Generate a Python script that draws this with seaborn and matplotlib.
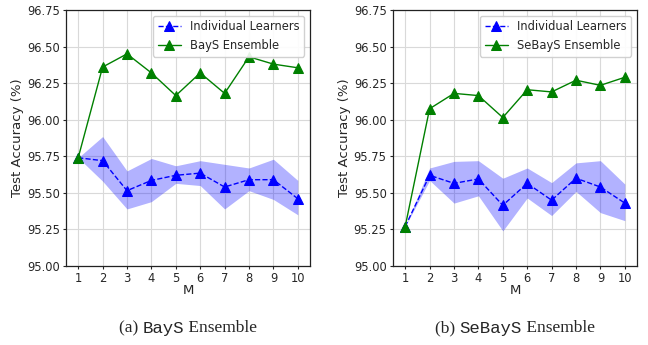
import matplotlib
matplotlib.use("Agg")
import matplotlib.pyplot as plt
import seaborn as sns
import numpy as np
import pandas as pd

# ensemble size
M = list(range(1, 11))

# (a) BayS
bays_indiv = [95.74, 95.72, 95.515, 95.585, 95.62, 95.635, 95.54, 95.59, 95.59, 95.46]
bays_upper = [95.74, 95.885, 95.65, 95.735, 95.685, 95.72, 95.695, 95.67, 95.73, 95.585]
bays_lower = [95.74, 95.58, 95.39, 95.44, 95.565, 95.55, 95.39, 95.515, 95.455, 95.35]
bays_ens = [95.74, 96.36, 96.45, 96.32, 96.165, 96.32, 96.18, 96.43, 96.38, 96.355]

# (b) SeBayS
sebays_indiv = [95.27, 95.62, 95.565, 95.595, 95.415, 95.565, 95.45, 95.60, 95.54, 95.43]
sebays_upper = [95.27, 95.67, 95.715, 95.72, 95.60, 95.67, 95.57, 95.705, 95.72, 95.56]
sebays_lower = [95.27, 95.585, 95.43, 95.48, 95.24, 95.465, 95.345, 95.51, 95.365, 95.31]
sebays_ens = [95.27, 96.075, 96.18, 96.165, 96.015, 96.205, 96.19, 96.27, 96.235, 96.29]

yticks = [95.00, 95.25, 95.50, 95.75, 96.00, 96.25, 96.50, 96.75]

sns.set_theme(style="ticks")
plt.rcParams["font.family"] = ["DejaVu Sans"]

fig = plt.figure(figsize=(6.48, 3.45), dpi=100)
ax_a = fig.add_axes([66 / 648, 1 - 266 / 345, 244 / 648, 256 / 345])
ax_b = fig.add_axes([393 / 648, 1 - 266 / 345, 244 / 648, 256 / 345])


def draw(ax, indiv, lo, hi, ens, ens_name):
    df = pd.DataFrame({"M": M, "indiv": indiv, "ens": ens})
    # spread of the individual learners
    ax.fill_between(M, lo, hi, color="blue", alpha=0.3, linewidth=0)
    sns.lineplot(data=df, x="M", y="indiv", ax=ax, color="blue", linestyle="--",
                 marker="^", markersize=7.5, markeredgecolor="blue", linewidth=1,
                 label="Individual Learners")
    sns.lineplot(data=df, x="M", y="ens", ax=ax, color="green", linestyle="-",
                 marker="^", markersize=7.5, markeredgecolor="green", linewidth=1,
                 label=ens_name)
    ax.set_xlim(0.5, 10.5)
    ax.set_ylim(95.0, 96.75)
    ax.set_xticks(M)
    ax.set_yticks(yticks)
    ax.set_yticklabels([f"{t:.2f}" for t in yticks])
    ax.tick_params(labelsize=8.3, length=2.5, width=0.8, pad=2)
    ax.grid(True, color="#d9d9d9", linewidth=0.8)
    ax.set_axisbelow(True)
    for s in ax.spines.values():
        s.set_color("#222222")
        s.set_linewidth(0.9)
    ax.set_xlabel("M", fontsize=9.5, labelpad=-1)
    ax.set_ylabel("Test Accuracy (%)", fontsize=9.5, labelpad=2)
    ax.legend(loc="upper right", fontsize=8.3, frameon=True, framealpha=0.9,
              borderpad=0.4, handlelength=2.0, borderaxespad=0.5)


draw(ax_a, bays_indiv, bays_lower, bays_upper, bays_ens, "BayS Ensemble")
draw(ax_b, sebays_indiv, sebays_lower, sebays_upper, sebays_ens, "SeBayS Ensemble")

# captions: serif text with the method name in monospace
renderer = fig.canvas.get_renderer()


def caption(cx, parts):
    texts = []
    for s, fam in parts:
        t = fig.text(0, 0.048, s, fontsize=12.5, family=fam, va="center", ha="left")
        texts.append(t)
    widths = [t.get_window_extent(renderer).width for t in texts]
    x = cx * 648 - sum(widths) / 2
    for t, w in zip(texts, widths):
        t.set_x(x / 648)
        x += w


caption(188 / 648, [("(a) ", "Liberation Serif"), ("BayS", "Liberation Mono"),
                    (" Ensemble", "Liberation Serif")])
caption(515 / 648, [("(b) ", "Liberation Serif"), ("SeBayS", "Liberation Mono"),
                    (" Ensemble", "Liberation Serif")])

fig.savefig("out.png", dpi=100)
